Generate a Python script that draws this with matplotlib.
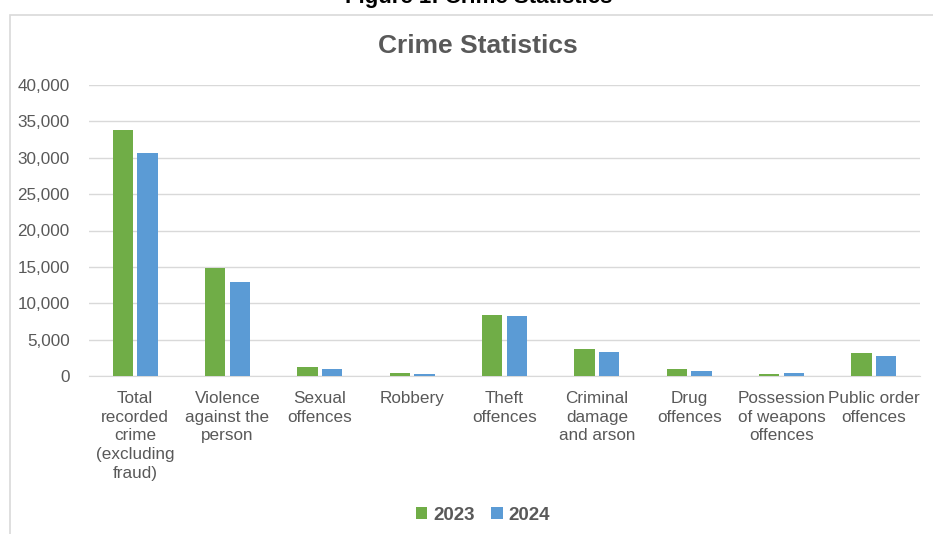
import matplotlib
matplotlib.use("Agg")
import matplotlib.pyplot as plt
import numpy as np
from matplotlib.patches import Rectangle
from matplotlib.ticker import FuncFormatter

categories = ["Total\nrecorded\ncrime\n(excluding\nfraud)", "Violence\nagainst the\nperson",
              "Sexual\noffences", "Robbery", "Theft\noffences", "Criminal\ndamage\nand arson",
              "Drug\noffences", "Possession\nof weapons\noffences", "Public order\noffences"]
values_2023 = [33800, 14850, 1200, 400, 8400, 3700, 1000, 330, 3100]
values_2024 = [30600, 12950, 1000, 250, 8250, 3250, 740, 470, 2750]
series_names = ["2023", "2024"]
colors = ["#70AD47", "#5B9BD5"]

plt.rcParams['font.family'] = ['Liberation Sans', 'DejaVu Sans']
fig = plt.figure(figsize=(9.33, 5.34), dpi=100)

# chart border
fig.patches.append(Rectangle((10/933, -0.1), 1.2, 1 - 15/534 + 0.1, transform=fig.transFigure,
                             fill=False, edgecolor="#D9D9D9", linewidth=1.2))
fig.text(479/933, 1 - 3/534, "Figure 1: Crime Statistics", ha="center", va="baseline",
         fontsize=16, fontweight="bold", color="black")
fig.text(478/933, 1 - 46/534, "Crime Statistics", ha="center", va="center",
         fontsize=19, fontweight="bold", color="#595959")

ax = fig.add_axes([89/933, 1 - 376/534, (920 - 89)/933, (376 - 85)/534])
x = np.arange(len(categories))
w = 0.22
gap = 0.045
ax.bar(x - (w + gap)/2, values_2023, w, color=colors[0], label=series_names[0], zorder=3)
ax.bar(x + (w + gap)/2, values_2024, w, color=colors[1], label=series_names[1], zorder=3)

ax.set_ylim(0, 40000)
ax.set_yticks(np.arange(0, 40001, 5000))
ax.yaxis.set_major_formatter(FuncFormatter(lambda v, p: f"{int(v):,}"))
ax.set_xlim(-0.5, len(categories) - 0.5)
ax.set_xticks(x)
ax.set_xticklabels(categories, linespacing=1.3)
ax.grid(axis="y", color="#D9D9D9", linewidth=1, zorder=0)
for s in ["top", "right", "left"]:
    ax.spines[s].set_visible(False)
ax.spines["bottom"].set_color("#D9D9D9")
ax.tick_params(axis="both", length=0, labelsize=12.3, colors="#595959")
ax.tick_params(axis="x", pad=11)
ax.tick_params(axis="y", pad=14)

leg = fig.legend(loc="center", bbox_to_anchor=(483/933, 1 - 515/534), ncol=2, frameon=False,
                 handlelength=0.6, handleheight=0.6, handletextpad=0.3, columnspacing=0.9,
                 prop={"weight": "bold", "size": 13.5})
for t in leg.get_texts():
    t.set_color("#595959")

fig.savefig("out.png", dpi=100)
